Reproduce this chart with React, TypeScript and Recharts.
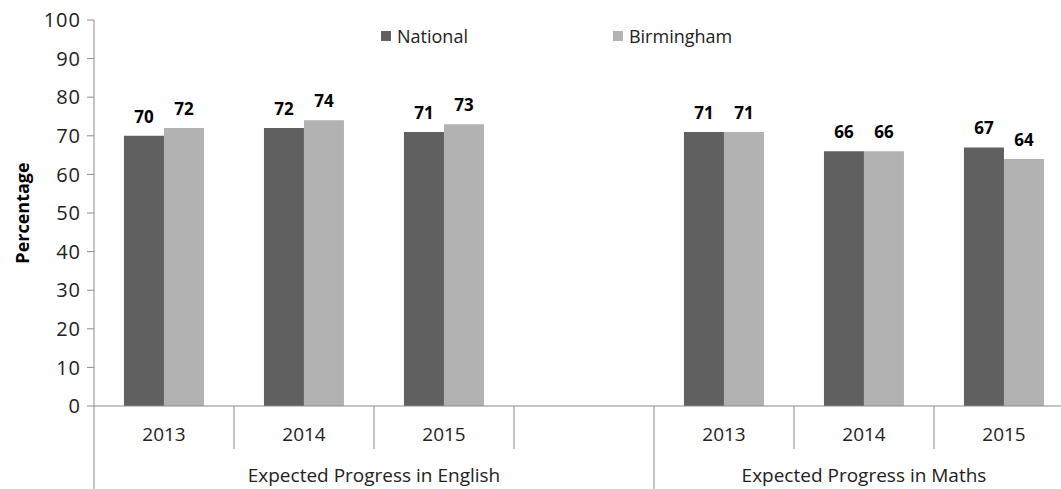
import React from "react";
import {
  BarChart,
  Bar,
  XAxis,
  YAxis,
  Legend,
  LabelList,
  Label,
} from "recharts";

const categories = ["2013", "2014", "2015", "", "2013", "2014", "2015"];
const seriesNames = ["National", "Birmingham"];
const national = [70, 72, 71, null, 71, 66, 67];
const birmingham = [72, 74, 73, null, 71, 66, 64];
const groups = [
  { name: "Expected Progress in English", span: 4 },
  { name: "Expected Progress in Maths", span: 3 },
];
const yTicks = [0, 10, 20, 30, 40, 50, 60, 70, 80, 90, 100];

const data = categories.map((label, i) => ({
  label,
  national: national[i],
  birmingham: birmingham[i],
}));

const FONT = "'Open Sans', sans-serif";
const AXIS = "#8c8c8c";
const DARK = "#606060";
const LIGHT = "#b2b2b2";

// index of the first category in every group
const groupStarts: Record<number, { name: string; span: number }> = {};
let acc = 0;
groups.forEach((g) => {
  groupStarts[acc] = g;
  acc += g.span;
});

function XTick(props: any) {
  const { x, y, payload, index } = props;
  const half = payload && payload.offset ? payload.offset : 70;
  const left = x - half;
  const group = groupStarts[index];
  const isLast = index === categories.length - 1;
  return (
    <g>
      <line
        x1={left}
        x2={left}
        y1={y}
        y2={group ? y + 90 : y + 43}
        stroke={AXIS}
        strokeWidth={1}
      />
      {isLast && (
        <line x1={x + half} x2={x + half} y1={y} y2={y + 90} stroke={AXIS} />
      )}
      <text
        x={x}
        y={y + 35}
        textAnchor="middle"
        fontSize={19}
        fontFamily={FONT}
        fill="#222"
      >
        {payload.value}
      </text>
      {group && (
        <text
          x={left + group.span * half}
          y={y + 76}
          textAnchor="middle"
          fontSize={19}
          fontFamily={FONT}
          fill="#222"
        >
          {group.name}
        </text>
      )}
    </g>
  );
}

function renderLegend(props: any) {
  const items = [...(props.payload || [])].sort(
    (a: any, b: any) => seriesNames.indexOf(a.value) - seriesNames.indexOf(b.value)
  );
  return (
    <div style={{ display: "flex", gap: 145, fontFamily: FONT, fontSize: 18 }}>
      {items.map((entry: any) => (
        <div
          key={entry.value}
          style={{ display: "flex", alignItems: "center", color: "#222" }}
        >
          <span
            style={{
              display: "inline-block",
              width: 10,
              height: 10,
              background: entry.color,
              marginRight: 6,
            }}
          />
          {entry.value}
        </div>
      ))}
    </div>
  );
}

function YLabel(props: any) {
  const vb = props.viewBox || { x: 0, y: 20, height: 386 };
  const cx = vb.x + 22;
  const cy = vb.y + vb.height / 2;
  return (
    <text
      x={cx}
      y={cy}
      transform={`rotate(-90, ${cx}, ${cy})`}
      textAnchor="middle"
      dominantBaseline="central"
      fontSize={18}
      fontWeight="bold"
      fontFamily={FONT}
      fill="#000"
    >
      Percentage
    </text>
  );
}

const labelStyle = { fontWeight: "bold", fontSize: 17, fill: "#000", fontFamily: FONT };

export default function App() {
  return (
    <div
      style={{
        position: "absolute",
        left: 0,
        top: 0,
        width: 1061,
        height: 489,
        overflow: "hidden",
        background: "#fff",
        fontFamily: FONT,
      }}
    >
      <BarChart
        width={1080}
        height={489}
        data={data}
        margin={{ top: 20, right: 6, bottom: 0, left: 0 }}
        barCategoryGap="21.4%"
        barGap={0}
      >
        <XAxis
          dataKey="label"
          interval={0}
          height={83}
          tickLine={false}
          tickSize={0}
          tickMargin={0}
          stroke={AXIS}
          tick={<XTick />}
        />
        <YAxis
          domain={[0, 100]}
          ticks={yTicks}
          width={94}
          tickSize={7}
          tickMargin={6}
          stroke={AXIS}
          tick={{ fill: "#222", fontSize: 20, fontFamily: FONT, letterSpacing: 1 }}
        >
          <Label content={<YLabel />} />
        </YAxis>
        <Legend
          layout="horizontal"
          verticalAlign="middle"
          align="center"
          wrapperStyle={{ top: 24, left: 381, width: "auto" }}
          content={renderLegend}
        />
        <Bar dataKey="national" name="National" fill={DARK} isAnimationActive={false}>
          <LabelList dataKey="national" position="top" offset={13} style={labelStyle} />
        </Bar>
        <Bar dataKey="birmingham" name="Birmingham" fill={LIGHT} isAnimationActive={false}>
          <LabelList dataKey="birmingham" position="top" offset={13} style={labelStyle} />
        </Bar>
      </BarChart>
    </div>
  );
}
